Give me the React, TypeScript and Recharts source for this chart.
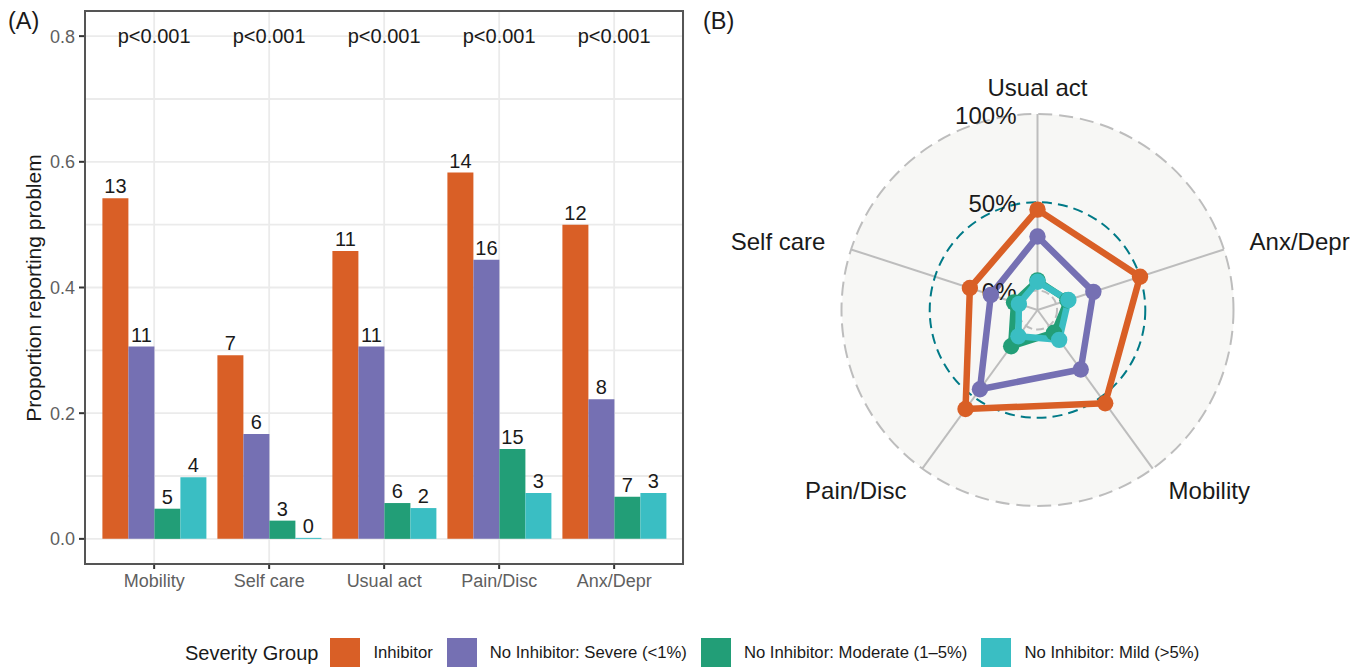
import React from 'react';
import {
  BarChart, Bar, XAxis, YAxis, CartesianGrid, LabelList, ReferenceDot,
  RadarChart, Radar, PolarGrid, PolarAngleAxis, PolarRadiusAxis,
} from 'recharts';

const FONT = "'Liberation Sans', Arial, Helvetica, sans-serif";

// ---- data ----
const CATEGORIES = ['Mobility', 'Self care', 'Usual act', 'Pain/Disc', 'Anx/Depr'];
const INHIBITOR = [0.542, 0.292, 0.458, 0.583, 0.5];
const SEVERE = [0.306, 0.167, 0.306, 0.444, 0.222];
const MODERATE = [0.048, 0.029, 0.057, 0.143, 0.067];
const MILD = [0.098, 0, 0.049, 0.073, 0.073];
const N_INHIBITOR = [13, 7, 11, 14, 12];
const N_SEVERE = [11, 6, 11, 16, 8];
const N_MODERATE = [5, 3, 6, 15, 7];
const N_MILD = [4, 0, 2, 3, 3];
const P_VALUES = ['p<0.001', 'p<0.001', 'p<0.001', 'p<0.001', 'p<0.001'];
const P_LABEL_Y = 0.8;
const Y_TICKS = [0, 0.2, 0.4, 0.6, 0.8];
const Y_GRID = [0, 0.1, 0.2, 0.3, 0.4, 0.5, 0.6, 0.7, 0.8];
const Y_DOMAIN: [number, number] = [-0.04, 0.84];
const RADAR_ORDER = ['Usual act', 'Anx/Depr', 'Mobility', 'Pain/Disc', 'Self care'];
const RADIUS_TICKS = [0, 0.5, 1];
const RADIUS_DOMAIN: [number, number] = [-0.111, 1];
const SERIES_KEYS = ['inh', 'sev', 'mod', 'mild'];
const SERIES_NAMES = ['Inhibitor', 'No Inhibitor: Severe (<1%)', 'No Inhibitor: Moderate (1–5%)', 'No Inhibitor: Mild (>5%)'];
const SERIES_COLORS = ['#D95F26', '#7570B3', '#229E77', '#3ABEC3'];
const SERIES_VALUES = [INHIBITOR, SEVERE, MODERATE, MILD];
const SERIES_COUNTS = [N_INHIBITOR, N_SEVERE, N_MODERATE, N_MILD];

// ---- derived tables ----
const barData = CATEGORIES.map((cat, i) => {
  const row: any = { cat, p: P_VALUES[i] };
  SERIES_KEYS.forEach((k, s) => {
    row[k] = SERIES_VALUES[s][i];
    row[k + '_n'] = String(SERIES_COUNTS[s][i]);
  });
  return row;
});
const radarData = RADAR_ORDER.map((cat) => barData[CATEGORIES.indexOf(cat)]);

// ---- layout ----
const BAR_W = 700;
const BAR_H = 600;
const BAR_MARGIN = { top: 11, right: 16.7, bottom: 0, left: 0 };
const Y_AXIS_W = 85;
const X_AXIS_H = 36;
const X_TICK_SIZE = 5;
const X_TICK_MARGIN = 5;
const Y_TICK_SIZE = 6;
const Y_TICK_MARGIN = 4;
const RADAR_LEFT = 700;
const RADAR_W = 667;
const RADAR_H = 620;
const RADAR_CX = 337.5;
const RADAR_CY = 310;
const RADAR_R = 196;
const rOf = (v: number) => (RADAR_R * (v - RADIUS_DOMAIN[0])) / (RADIUS_DOMAIN[1] - RADIUS_DOMAIN[0]);

const BORDER = '#555555';
const TICK = '#333333';
const AXIS_TEXT = '#5f5f5f';

const XTick = (props: any) => {
  const { x, y, payload } = props;
  const y0 = y - X_TICK_MARGIN;
  return (
    <g>
      <line x1={x} x2={x} y1={y0 - X_TICK_SIZE} y2={y0} stroke={TICK} strokeWidth={2} />
      <text x={x} y={y} dy="0.71em" textAnchor="middle" fontSize={18} fill={AXIS_TEXT} fontFamily={FONT}>
        {payload.value}
      </text>
    </g>
  );
};

const YTick = (props: any) => {
  const { x, y, payload } = props;
  const x0 = x + Y_TICK_MARGIN;
  return (
    <g>
      <line x1={x0} x2={x0 + Y_TICK_SIZE} y1={y} y2={y} stroke={TICK} strokeWidth={2} />
      <text x={x} y={y} dy="0.355em" textAnchor="end" fontSize={18} fill={AXIS_TEXT} fontFamily={FONT}>
        {Number(payload.value).toFixed(1)}
      </text>
    </g>
  );
};

const AngleTick = (props: any) => {
  const { x, y, textAnchor, payload } = props;
  return (
    <text x={x} y={y} textAnchor={textAnchor} dominantBaseline="central" fontSize={24} fill="#1a1a1a" fontFamily={FONT}>
      {payload.value}
    </text>
  );
};

const RadiusTick = (props: any) => {
  const { x, y, payload } = props;
  return (
    <text x={x - 21} y={y + 1.5} textAnchor="end" dominantBaseline="central" fontSize={24} fill="#1a1a1a" fontFamily={FONT}>
      {`${Math.round(payload.value * 100)}%`}
    </text>
  );
};

export default function App() {
  const plotLeft = BAR_MARGIN.left + Y_AXIS_W;
  const plotTop = BAR_MARGIN.top;
  const plotW = BAR_W - BAR_MARGIN.right - plotLeft;
  const plotH = BAR_H - BAR_MARGIN.bottom - X_AXIS_H - plotTop;
  return (
    <div style={{ position: 'absolute', left: 0, top: 0, width: 1367, height: 667, overflow: 'hidden', background: '#fff', fontFamily: FONT }}>
      {/* Panel A */}
      <div style={{ position: 'absolute', left: 0, top: 0 }}>
        <BarChart
          width={BAR_W}
          height={BAR_H}
          data={barData}
          margin={BAR_MARGIN}
          barCategoryGap="5%"
          barGap={0}
        >
          <CartesianGrid stroke="#ebebeb" strokeWidth={1.8} horizontalValues={Y_GRID} />
          <XAxis
            dataKey="cat"
            type="category"
            interval={0}
            padding={{ left: 11.65, right: 11.65 }}
            height={X_AXIS_H}
            tickSize={X_TICK_SIZE}
            tickMargin={X_TICK_MARGIN}
            axisLine={false}
            tickLine={false}
            tick={XTick}
          />
          <YAxis
            type="number"
            domain={Y_DOMAIN}
            ticks={Y_TICKS}
            allowDataOverflow
            width={Y_AXIS_W}
            tickSize={Y_TICK_SIZE}
            tickMargin={Y_TICK_MARGIN}
            axisLine={false}
            tickLine={false}
            tick={YTick}
          />
          {SERIES_KEYS.map((k, s) => (
            <Bar key={k} dataKey={k} name={SERIES_NAMES[s]} fill={SERIES_COLORS[s]} minPointSize={1} isAnimationActive={false}>
              <LabelList
                dataKey={k + '_n'}
                position="top"
                offset={5}
                fill="#1a1a1a"
                fontSize={20}
                fontFamily={FONT}
                formatter={(v: any) => `${v}`}
              />
            </Bar>
          ))}
          {barData.map((d) => (
            <ReferenceDot
              key={d.cat}
              x={d.cat}
              y={P_LABEL_Y}
              r={0}
              fill="none"
              stroke="none"
              label={{ value: d.p, position: 'center', fill: '#1a1a1a', fontSize: 20, fontFamily: FONT }}
            />
          ))}
        </BarChart>
      </div>
      {/* panel frame */}
      <div
        style={{
          position: 'absolute',
          left: plotLeft - 1,
          top: plotTop - 1,
          width: plotW + 2,
          height: plotH + 2,
          border: `2px solid ${BORDER}`,
          boxSizing: 'border-box',
          pointerEvents: 'none',
        }}
      />

      {/* Panel B */}
      <div
        style={{
          position: 'absolute',
          left: RADAR_LEFT + RADAR_CX - RADAR_R,
          top: RADAR_CY - RADAR_R,
          width: RADAR_R * 2,
          height: RADAR_R * 2,
          borderRadius: '50%',
          background: '#f7f7f5',
        }}
      />
      <div style={{ position: 'absolute', left: RADAR_LEFT, top: 0 }}>
        <RadarChart
          width={RADAR_W}
          height={RADAR_H}
          data={radarData}
          cx={RADAR_CX}
          cy={RADAR_CY}
          innerRadius={0}
          outerRadius={RADAR_R}
          startAngle={90}
          endAngle={-270}
          margin={{ top: 0, right: 0, bottom: 0, left: 0 }}
        >
          <PolarGrid gridType="circle" radialLines polarRadius={[]} stroke="#bdbdbd" strokeWidth={2} />
          <PolarGrid gridType="circle" radialLines={false} polarRadius={[rOf(1)]} stroke="#bdbdbd" strokeWidth={2} strokeDasharray="14 7" />
          <PolarGrid gridType="circle" radialLines={false} polarRadius={[rOf(0.5)]} stroke="#007A87" strokeWidth={2} strokeDasharray="10 6" />
          <PolarGrid gridType="circle" radialLines={false} polarRadius={[rOf(0)]} stroke="#bdbdbd" strokeWidth={2} strokeDasharray="8 4" />
          <PolarAngleAxis dataKey="cat" tick={AngleTick} tickSize={27} tickLine={false} axisLine={false} />
          {SERIES_KEYS.map((k, s) => (
            <Radar
              key={k}
              dataKey={k}
              name={SERIES_NAMES[s]}
              stroke={SERIES_COLORS[s]}
              strokeWidth={6.5}
              strokeLinejoin="round"
              fill="none"
              dot={{ r: 8.2, fill: SERIES_COLORS[s], fillOpacity: 1, stroke: SERIES_COLORS[s], strokeWidth: 0 }}
              isAnimationActive={false}
            />
          ))}
          <PolarRadiusAxis
            angle={90}
            type="number"
            domain={RADIUS_DOMAIN}
            ticks={RADIUS_TICKS}
            allowDataOverflow
            axisLine={false}
            tickLine={false}
            tick={RadiusTick}
          />
        </RadarChart>
      </div>

      {/* Titles */}
      <svg width={1367} height={667} style={{ position: 'absolute', left: 0, top: 0, pointerEvents: 'none' }}>
        <text x={8} y={29} fontSize={23.5} fill="#1a1a1a" fontFamily={FONT}>(A)</text>
        <text x={703} y={29} fontSize={23.5} fill="#1a1a1a" fontFamily={FONT}>(B)</text>
        <text
          x={33}
          y={288}
          fontSize={21}
          fill="#1a1a1a"
          fontFamily={FONT}
          textAnchor="middle"
          dominantBaseline="central"
          transform="rotate(-90 33 288)"
        >
          Proportion reporting problem
        </text>
      </svg>

      {/* Legend */}
      <div style={{ position: 'absolute', left: 185, top: 638, height: 30, display: 'flex', alignItems: 'center', whiteSpace: 'nowrap' }}>
        <span style={{ fontSize: 20, color: '#1a1a1a', marginRight: 12 }}>Severity Group</span>
        {SERIES_NAMES.map((n, s) => (
          <React.Fragment key={n}>
            <span style={{ display: 'inline-block', width: 30, height: 30, background: SERIES_COLORS[s], marginRight: 13 }} />
            <span style={{ fontSize: 16.7, color: '#1a1a1a', marginRight: 14 }}>{n}</span>
          </React.Fragment>
        ))}
      </div>
    </div>
  );
}
